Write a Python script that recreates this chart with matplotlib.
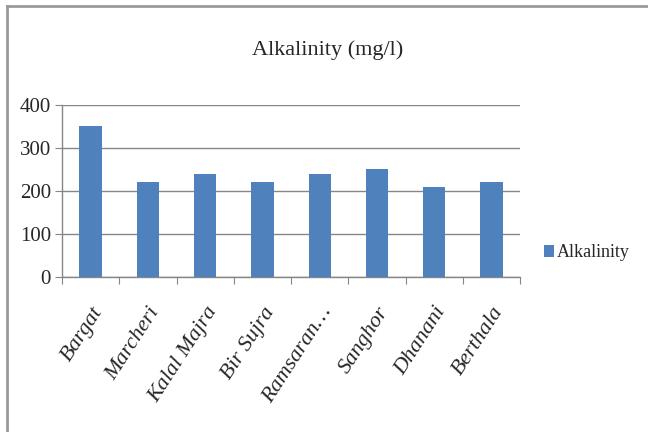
import matplotlib
matplotlib.use("Agg")
import matplotlib.pyplot as plt
import matplotlib.transforms as mtransforms
from matplotlib.lines import Line2D
import numpy as np

plt.rcParams['font.family'] = ['Liberation Serif', 'DejaVu Serif']

villages = ["Bargat", "Marcheri", "Kalal Majra", "Bir Sujra", "Ramsaran\u2026",
            "Sanghor", "Dhanani", "Berthala"]
alkalinity = [350, 220, 240, 220, 240, 250, 210, 220]
yticks = [0, 100, 200, 300, 400]

fig = plt.figure(figsize=(6.48, 4.32), dpi=100)
ax = fig.add_axes([0.0957, 0.359, 0.707, 0.398])

x = np.arange(len(villages))
bars = ax.bar(x, alkalinity, width=0.39, color="#4F81BD", zorder=3,
              label="Alkalinity")

ax.set_xlim(-0.5, len(villages) - 0.5)
ax.set_ylim(0, 400)
ax.set_yticks(yticks)
ax.yaxis.grid(True, color="#868686", linewidth=1.0, zorder=0)
ax.set_axisbelow(True)

# category boundary ticks on the x axis, labels at bar centres
ax.set_xticks(np.arange(-0.5, len(villages)), minor=False)
ax.set_xticklabels([])
ax.set_xticks(x, minor=True)
ax.set_xticklabels(villages, minor=True, rotation=57, ha="right",
                   rotation_mode="anchor", fontstyle="italic", fontsize=16,
                   color="#262626")
shift = mtransforms.ScaledTranslation(-5 / 100, 0, fig.dpi_scale_trans)
for lbl in ax.get_xticklabels(minor=True):
    lbl.set_transform(lbl.get_transform() + shift)
ax.tick_params(axis="x", which="minor", length=0, pad=19)
ax.tick_params(axis="x", which="major", length=5, color="#868686", direction="out")
ax.tick_params(axis="y", length=5, color="#868686", labelsize=15,
               labelcolor="#262626", pad=3)

for s in ["top", "right"]:
    ax.spines[s].set_visible(False)
for s in ["left", "bottom"]:
    ax.spines[s].set_color("#868686")
    ax.spines[s].set_linewidth(1.0)

fig.text(0.506, 0.885, "Alkalinity (mg/l)", ha="center", va="center",
         fontsize=16, color="#262626")

leg = fig.legend(handles=[bars], labels=["Alkalinity"], loc="center left",
                 bbox_to_anchor=(0.825, 0.415), frameon=False, fontsize=13,
                 handlelength=0.55, handleheight=0.7, handletextpad=0.2,
                 borderpad=0)
for t in leg.get_texts():
    t.set_color("#262626")

# outer frame, left and top edges
fig.add_artist(Line2D([0.011, 0.011], [0.0, 0.987], transform=fig.transFigure,
                      color="#9a9a9a", linewidth=2.0))
fig.add_artist(Line2D([0.011, 1.0], [0.987, 0.987], transform=fig.transFigure,
                      color="#9a9a9a", linewidth=2.0))

fig.savefig("out.png", dpi=100)
